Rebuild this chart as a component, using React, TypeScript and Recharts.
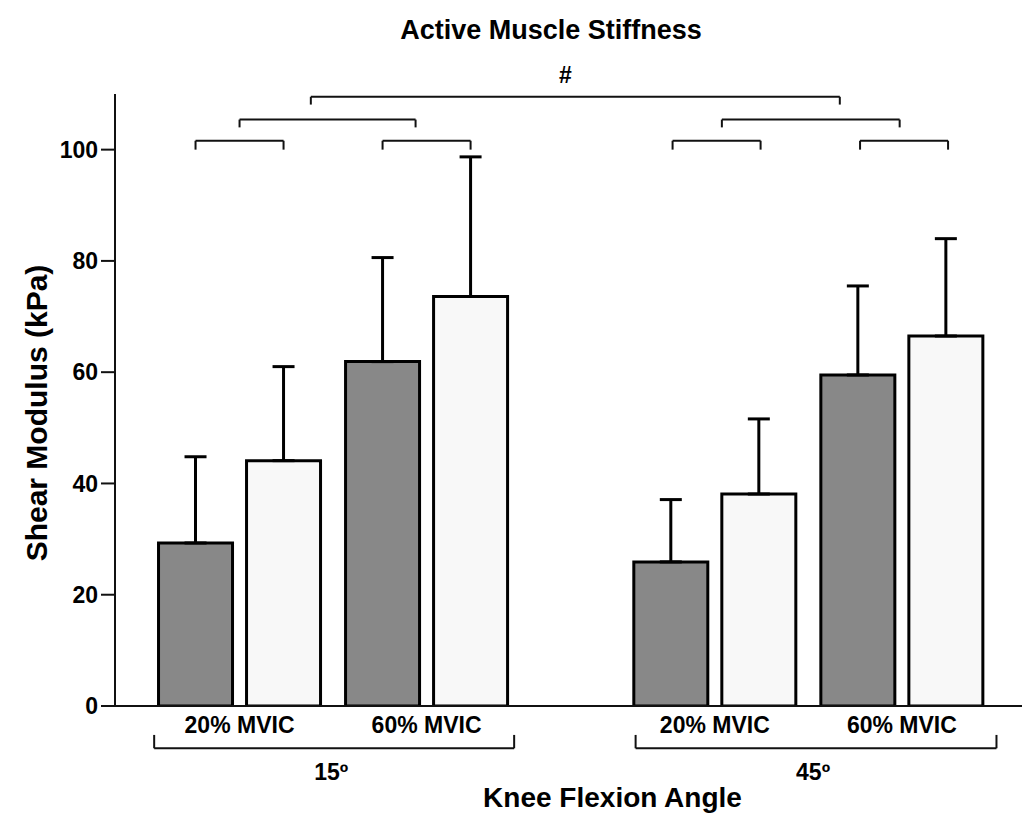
import { Bar, BarChart, Cell, ErrorBar, ReferenceLine, XAxis, YAxis } from "recharts";

const GROUPS = ["15º", "45º"];
const LEVELS = ["20% MVIC", "60% MVIC"];
// order: 15º 20%, 15º 60%, 45º 20%, 45º 60%
const DARK = [29.3, 61.9, 25.9, 59.5];
const DARK_SD = [15.5, 18.7, 11.2, 16.0];
const LIGHT = [44.1, 73.6, 38.1, 66.5];
const LIGHT_SD = [16.9, 25.1, 13.5, 17.5];
const Y_TICKS = [0, 20, 40, 60, 80, 100];

// significance brackets above bars: [from, to, bar height, tip end]
const SIG_BRACKETS = [
  [0, 1, 101.6, 100],
  [2.125, 3.125, 101.6, 100],
  [0.5, 2.5, 105.4, 104],
  [5.42, 6.42, 101.6, 100],
  [7.55, 8.55, 101.6, 100],
  [5.98, 8.0, 105.4, 104],
];
const TOP_BRACKET = [1.31, 7.32, 109.5, 108.1];
// group brackets under the axis
const GROUP_BRACKETS = [
  [-0.47, 3.62, -7.6, -5.2],
  [5.0, 9.1, -7.6, -5.2],
];

const FONT = '"Liberation Sans", Arial, Helvetica, sans-serif';
const DARK_FILL = "#888888";
const LIGHT_FILL = "#f8f8f8";
const INK = "#111";

// x layout: group step, level step, condition step
const pos = (g: number, l: number, c: number) => g * 5.4 + l * 2.125 + c;

const rows = GROUPS.flatMap((_, g) =>
  LEVELS.flatMap((_, l) => {
    const i = g * 2 + l;
    return [
      { x: pos(g, l, 0), value: DARK[i], err: [0, DARK_SD[i]], fill: DARK_FILL },
      { x: pos(g, l, 1), value: LIGHT[i], err: [0, LIGHT_SD[i]], fill: LIGHT_FILL },
    ];
  })
);
const pairTicks = GROUPS.flatMap((_, g) => LEVELS.map((_, l) => pos(g, l, 0.5)));

const textStyle = { fill: "#000", fontWeight: 700, fontFamily: FONT };

// label drawn relative to the bracket's horizontal segment
const segmentLabel = (text: string, dx: number, dy: number, size: number) => (props: any) => {
  const vb = props.viewBox || {};
  return (
    <text
      x={vb.x + vb.width / 2 + dx}
      y={vb.y + dy}
      textAnchor="middle"
      fontSize={size}
      {...textStyle}
    >
      {text}
    </text>
  );
};

function bracket(b: number[], key: string, label?: any) {
  const [x1, x2, y, tip] = b;
  const line = { stroke: INK, strokeWidth: 2, ifOverflow: "visible" as const };
  return [
    <ReferenceLine
      key={key + "h"}
      segment={[{ x: x1, y }, { x: x2, y }]}
      {...line}
      label={label ? { content: label } : undefined}
    />,
    <ReferenceLine key={key + "a"} segment={[{ x: x1, y }, { x: x1, y: tip }]} {...line} />,
    <ReferenceLine key={key + "b"} segment={[{ x: x2, y }, { x: x2, y: tip }]} {...line} />,
  ];
}

export default function App() {
  return (
    <div
      style={{
        position: "absolute",
        left: 0,
        top: 0,
        width: 1030,
        height: 816,
        background: "#fff",
        fontFamily: FONT,
      }}
    >
      <div
        style={{
          position: "absolute",
          top: 17,
          left: 351,
          width: 400,
          textAlign: "center",
          fontSize: 27,
          lineHeight: "27px",
          fontWeight: 700,
          color: "#000",
        }}
      >
        Active Muscle Stiffness
      </div>
      <BarChart
        width={1030}
        height={816}
        data={rows}
        margin={{ top: 94, right: 8, bottom: 0, left: 0 }}
        style={{ fontFamily: FONT }}
      >
        <XAxis
          type="number"
          dataKey="x"
          domain={[-0.915, 9.39]}
          allowDataOverflow
          ticks={pairTicks}
          interval={0}
          tickFormatter={(_v: number, i: number) => LEVELS[i % 2]}
          tickLine={false}
          tickMargin={5}
          axisLine={{ stroke: INK, strokeWidth: 2 }}
          tick={{ ...textStyle, fontSize: 23 }}
          height={110}
          label={{
            value: "Knee Flexion Angle",
            position: "insideBottom",
            offset: 9,
            dx: 44,
            ...textStyle,
            fontSize: 28,
          }}
        />
        <YAxis
          type="number"
          domain={[0, 110]}
          allowDataOverflow
          ticks={Y_TICKS}
          width={115}
          tickSize={14}
          tickMargin={3}
          axisLine={{ stroke: INK, strokeWidth: 2 }}
          tickLine={{ stroke: INK, strokeWidth: 2 }}
          tick={{ ...textStyle, fontSize: 23 }}
          label={{
            value: "Shear Modulus (kPa)",
            angle: -90,
            position: "center",
            dx: -21,
            dy: 13,
            ...textStyle,
            fontSize: 30,
          }}
        />
        <Bar dataKey="value" barSize={74} stroke="#000" strokeWidth={3} isAnimationActive={false}>
          {rows.map((r, i) => (
            <Cell key={i} fill={r.fill} />
          ))}
          <ErrorBar
            dataKey="err"
            direction="y"
            width={11}
            stroke="#000"
            strokeWidth={3}
            isAnimationActive={false}
          />
        </Bar>
        {SIG_BRACKETS.flatMap((b, i) => bracket(b, "s" + i))}
        {bracket(TOP_BRACKET, "top", segmentLabel("#", -10, -14, 23))}
        {GROUP_BRACKETS.flatMap((b, i) =>
          bracket(b, "g" + i, segmentLabel(GROUPS[i], -3, 32, 23))
        )}
      </BarChart>
    </div>
  );
}
